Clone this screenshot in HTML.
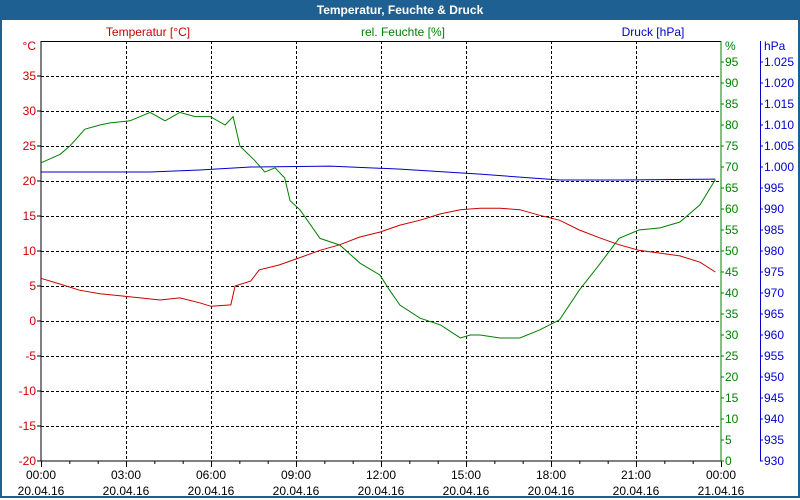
<!DOCTYPE html>
<html><head><meta charset="utf-8"><style>
body{margin:0;width:800px;height:500px;overflow:hidden;background:#fff;font-family:"Liberation Sans",sans-serif}
#frame{position:absolute;left:0;top:0;width:796px;height:496px;border:2px solid #1f6093;border-top:none}
#title{position:absolute;left:0;top:0;width:800px;height:20px;background:#1f6093;color:#fff;font-weight:bold;font-size:12px;text-align:center;line-height:20px}
svg{position:absolute;left:0;top:0}
</style></head><body>
<div id="frame"></div>
<div id="title">Temperatur, Feuchte &amp; Druck</div>
<svg id="chart" width="800" height="500"></svg>
<script>
const tempHours=[0,0.65,1.36,2.08,2.79,3.5,4.2,4.9,5.6,6.0,6.7,6.85,7.4,7.7,8.4,9.1,9.85,10.55,11.25,11.96,12.67,13.38,14.1,14.8,15.5,16.2,16.9,17.6,18.3,19.0,19.7,20.4,21.1,21.85,22.55,23.26,23.8];
const tempValues=[6.1,5.3,4.4,3.9,3.6,3.3,3.0,3.3,2.6,2.1,2.3,5.0,5.7,7.3,8,9,10.1,10.9,12,12.7,13.7,14.4,15.3,15.9,16.1,16.1,15.9,15.1,14.4,13,11.9,10.9,10.1,9.7,9.3,8.4,7.0];
const humHours=[0,0.67,1.02,1.55,2.08,2.44,3.14,3.85,4.38,4.9,5.44,5.97,6.5,6.78,7.02,7.55,7.9,8.26,8.6,8.79,9.14,9.85,10.55,11.26,11.96,12.3,12.67,13.38,14.1,14.8,15.15,15.5,16.2,16.9,17.6,18.3,19.0,19.7,20.4,21.1,21.85,22.55,23.26,23.8];
const humValues=[71,73,75,79,80,80.5,81,83,81,83,82,82,80,82,75,71.5,68.8,69.8,67.4,62,59.8,53,51.4,47.1,44.3,40.7,37.1,34,32.4,29.3,30,30,29.3,29.3,31.2,33.6,40.7,46.7,53,55,55.5,56.9,61,67];
const presHours=[0,3.85,5.6,7.4,10.2,12.67,15.5,18.3,20.4,23.8];
const presValues=[998.8,998.8,999.3,1000.0,1000.2,999.5,998.3,996.9,996.9,997.1];
const tempTicks=[-20,-15,-10,-5,0,5,10,15,20,25,30,35];
const humTicks=[0,5,10,15,20,25,30,35,40,45,50,55,60,65,70,75,80,85,90,95];
const presTicks=[930,935,940,945,950,955,960,965,970,975,980,985,990,995,1000,1005,1010,1015,1020,1025];
const timeLabels=["00:00","03:00","06:00","09:00","12:00","15:00","18:00","21:00","00:00"];
const dateLabels=["20.04.16","20.04.16","20.04.16","20.04.16","20.04.16","20.04.16","20.04.16","20.04.16","21.04.16"];

const L=41,R=721,T=41,B=461;
const x=h=>L+h*(R-L)/24;
const yT=v=>B-(v+20)*(B-T)/60;
const yH=v=>B-v*(B-T)/100;
const yP=v=>B-(v-930)*4.2;
const svg=document.getElementById('chart');
const NS='http://www.w3.org/2000/svg';
function mk(tag,a){const e=document.createElementNS(NS,tag);for(const k in a)e.setAttribute(k,a[k]);svg.appendChild(e);return e;}
function txt(s,xx,yy,anchor,color,size){const e=mk('text',{x:xx,y:yy,'text-anchor':anchor,fill:color,'font-size':size||12,'font-family':'Liberation Sans, sans-serif'});e.textContent=s;return e;}

// grid
tempTicks.forEach(t=>{if(t>-20){const g=mk('line',{x1:L,x2:R,y1:yT(t)+0.5,y2:yT(t)+0.5,stroke:'#000','stroke-dasharray':'3,2'});

}});
for(let i=1;i<8;i++){const g=mk('line',{x1:x(i*3)+0.5,x2:x(i*3)+0.5,y1:T,y2:B,stroke:'#000','stroke-dasharray':'3,2'});

}
// axes
mk('line',{x1:L,x2:L,y1:T,y2:B,stroke:'#000'});
mk('line',{x1:L,x2:R,y1:T+0.5,y2:T+0.5,stroke:'#000'});
mk('line',{x1:L,x2:R,y1:B,y2:B,stroke:'#000'});
mk('line',{x1:R,x2:R,y1:T,y2:B,stroke:'#008000'});
mk('line',{x1:760.5,x2:760.5,y1:T,y2:B,stroke:'#0000cc'});
for(let h=0;h<=24;h++){mk('line',{x1:x(h)+0.5,x2:x(h)+0.5,y1:B,y2:B+(h%3==0?6:3),stroke:'#000'});}
// left ticks
tempTicks.forEach(t=>{mk('line',{x1:L-4,x2:L,y1:yT(t),y2:yT(t),stroke:'#000'});
const e=txt(String(t),36,yT(t)+4,'end','#cc0000');

});
txt('°C',36,50,'end','#cc0000');
humTicks.forEach(t=>{mk('line',{x1:R,x2:R+3,y1:yH(t),y2:yH(t),stroke:'#008000'});
const e=txt(String(t),725,yH(t)+4,'start','#008000');

});
txt('%',725,50,'start','#008000');
presTicks.forEach(t=>{mk('line',{x1:760,x2:763,y1:yP(t),y2:yP(t),stroke:'#0000cc'});
const s=t>=1000?'1.'+String(t).slice(1):String(t);
const e=txt(s,764,yP(t)+4,'start','#0000cc');

});
txt('hPa',764,50,'start','#0000cc');
// x labels
timeLabels.forEach((s,i)=>{const e=txt(s,x(i*3),479,'middle','#000');


const d=txt(dateLabels[i],x(i*3),495,'middle','#000');

});
// series titles
txt('Temperatur [°C]',148,36,'middle','#cc0000');
txt('rel. Feuchte [%]',403,36,'middle','#008000');
txt('Druck [hPa]',653,36,'middle','#0000cc');
function line(hs,vs,yf,c,name){const p=mk('polyline',{points:hs.map((h,i)=>x(h)+','+yf(vs[i])).join(' '),fill:'none',stroke:c,'stroke-width':1});

}
line(presHours,presValues,yP,'#0000cc','pressure-line');
line(humHours,humValues,yH,'#008000','humidity-line');
line(tempHours,tempValues,yT,'#cc0000','temperature-line');
</script>
</body></html>
